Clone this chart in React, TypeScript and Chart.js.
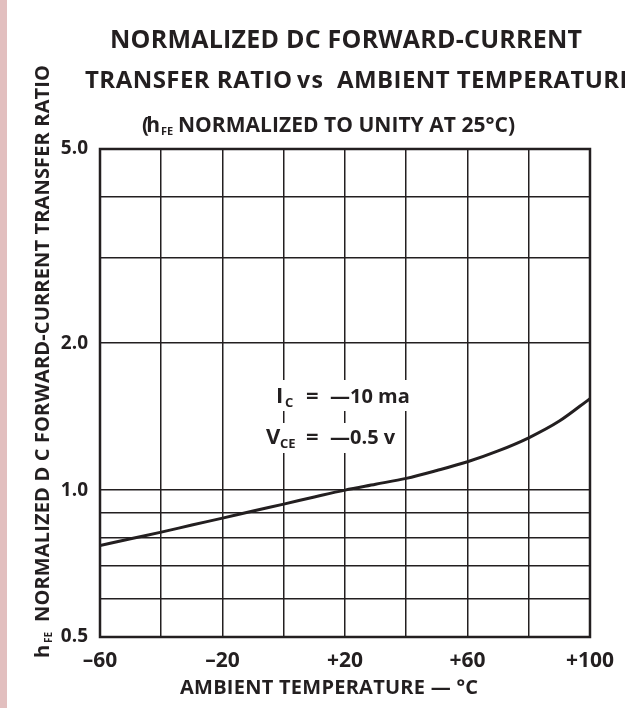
import React, { useEffect, useRef } from "react";
import { Chart, registerables } from "chart.js";

Chart.register(...registerables);

// ---- data ----
const temperatures = [-60, -50, -40, -30, -20, -10, 0, 10, 20, 30, 40, 50, 60, 70, 80, 90, 100];
const hfeRatio = [0.77, 0.795, 0.82, 0.848, 0.876, 0.906, 0.936, 0.968, 1.0, 1.028, 1.057, 1.097, 1.143, 1.203, 1.28, 1.385, 1.54];
const yGridValues = [0.5, 0.6, 0.7, 0.8, 0.9, 1, 2, 3, 4, 5];
const yLabelValues = [0.5, 1, 2, 5];
const xLabelValues = [-60, -20, 20, 60, 100];

const titleLine1 = "NORMALIZED DC FORWARD-CURRENT";
const titleLine2a = "TRANSFER RATIO";
const titleLine2b = "vs";
const titleLine2c = "AMBIENT TEMPERATURE";
const subtitleMain = "NORMALIZED TO UNITY AT 25°C)";
const yTitleMain = "NORMALIZED D C FORWARD-CURRENT TRANSFER RATIO";
const xTitle = "AMBIENT TEMPERATURE — °C";
const noteIc = "—10 ma";
const noteVce = "—0.5 v";

const FONT = "'Open Sans', Lato, 'DejaVu Sans', sans-serif";
const INK = "#231f20";

function fitText(ctx: CanvasRenderingContext2D, text: string, x: number, y: number, width: number | null, size: number) {
  ctx.font = `bold ${size}px ${FONT}`;
  (ctx as any).letterSpacing = "0px";
  ctx.textAlign = "left";
  ctx.textBaseline = "alphabetic";
  if (width != null) {
    const w = ctx.measureText(text).width;
    const n = [...text].length;
    const ls = n > 1 ? (width - w) / (n - 1) : 0;
    (ctx as any).letterSpacing = `${ls}px`;
  }
  ctx.fillText(text, x, y);
  (ctx as any).letterSpacing = "0px";
}

const textPlugin = {
  id: "textPlugin",
  beforeDraw(chart: any) {
    const ctx = chart.ctx as CanvasRenderingContext2D;
    ctx.save();
    ctx.fillStyle = "#ffffff";
    ctx.fillRect(0, 0, chart.width, chart.height);
    ctx.fillStyle = "#e2bfbf";
    ctx.fillRect(0, 0, 7, chart.height);
    ctx.restore();
  },
  afterDraw(chart: any) {
    const ctx = chart.ctx as CanvasRenderingContext2D;
    const a = chart.chartArea;
    ctx.save();
    // plot frame
    ctx.strokeStyle = INK;
    ctx.lineWidth = 2.5;
    ctx.strokeRect(a.left, a.top, a.right - a.left, a.bottom - a.top);

    ctx.fillStyle = INK;
    // titles
    fitText(ctx, titleLine1, 110, 48, 472, 25);
    fitText(ctx, titleLine2a, 85, 88, 207, 24);
    fitText(ctx, titleLine2b, 297, 88, 26, 23);
    fitText(ctx, titleLine2c, 337, 88, 296, 24);
    fitText(ctx, "(h", 142, 132, 18, 21);
    fitText(ctx, "FE", 161, 135, null, 11);
    fitText(ctx, subtitleMain, 178, 132, 337, 21);

    // y axis title (rotated)
    ctx.save();
    ctx.translate(49, 658);
    ctx.rotate(-Math.PI / 2);
    fitText(ctx, "h", 0, 0, null, 20);
    fitText(ctx, "FE", 15, 3, null, 10);
    fitText(ctx, yTitleMain, 36, 0, 557, 20);
    ctx.restore();

    // x axis title
    fitText(ctx, xTitle, 180, 694, 298, 20);

    // annotation with white backing
    ctx.fillStyle = "#ffffff";
    ctx.fillRect(264, 380, 146, 31);
    ctx.fillRect(262, 423, 140, 30);
    ctx.fillStyle = INK;
    fitText(ctx, "I", 276, 403, null, 22);
    fitText(ctx, "C", 285, 407, null, 13);
    fitText(ctx, "=", 306, 403, null, 22);
    fitText(ctx, noteIc, 330, 403, null, 20);
    fitText(ctx, "V", 266, 444, null, 22);
    fitText(ctx, "CE", 280, 448, null, 13);
    fitText(ctx, "=", 306, 444, null, 22);
    fitText(ctx, noteVce, 330, 444, null, 20);
    ctx.restore();
  },
};

export default function App() {
  const ref = useRef<HTMLCanvasElement | null>(null);
  useEffect(() => {
    document.body.style.margin = "0";
    const canvas = ref.current;
    if (!canvas) return;
    const chart = new Chart(canvas, {
      type: "line",
      data: {
        datasets: [
          {
            data: temperatures.map((t, i) => ({ x: t, y: hfeRatio[i] })),
            borderColor: INK,
            borderWidth: 3,
            pointRadius: 0,
            cubicInterpolationMode: "monotone",
            fill: false,
          },
        ],
      },
      options: {
        animation: false,
        responsive: false,
        events: [],
        layout: { padding: { top: 149, right: 23, left: 0, bottom: 0 } },
        plugins: { legend: { display: false }, tooltip: { enabled: false }, title: { display: false } },
        scales: {
          x: {
            type: "linear",
            min: -60,
            max: 100,
            afterFit: (s: any) => {
              s.height = 71;
            },
            ticks: {
              stepSize: 20,
              autoSkip: false,
              maxRotation: 0,
              padding: 11,
              color: INK,
              font: { family: FONT, size: 21, weight: "bold" },
              callback: (v: any) => {
                const n = Number(v);
                if (!xLabelValues.includes(n)) return "";
                return n > 0 ? "+" + n : n < 0 ? "–" + Math.abs(n) : "0";
              },
            },
            grid: { color: INK, lineWidth: 1.5, drawTicks: false },
            border: { display: false },
          },
          y: {
            type: "logarithmic",
            min: 0.5,
            max: 5,
            afterFit: (s: any) => {
              s.width = 100;
            },
            afterBuildTicks: (s: any) => {
              s.ticks = yGridValues.map((v) => ({ value: v }));
            },
            ticks: {
              autoSkip: false,
              padding: 12,
              color: INK,
              font: { family: FONT, size: 19, weight: "bold" },
              callback: (v: any) => {
                const n = Number(v);
                return yLabelValues.some((y) => Math.abs(y - n) < 1e-9) ? n.toFixed(1) : "";
              },
            },
            grid: { color: INK, lineWidth: 1.5, drawTicks: false },
            border: { display: false },
          },
        },
      },
      plugins: [textPlugin],
    } as any);
    return () => chart.destroy();
  }, []);
  return (
    <div style={{ width: 625, height: 708 }}>
      <canvas ref={ref} width={625} height={708} style={{ display: "block" }} />
    </div>
  );
}
